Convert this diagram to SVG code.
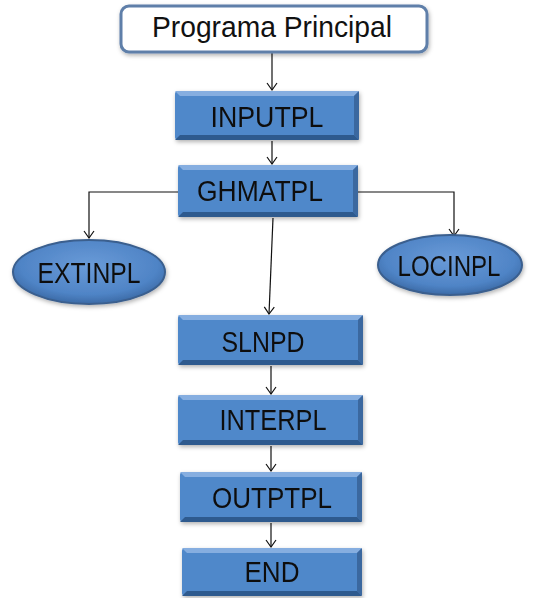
<svg xmlns="http://www.w3.org/2000/svg" width="534" height="598" viewBox="0 0 534 598">
<style>
.lbl{font-family:"Liberation Sans",Arial,sans-serif;font-size:29px;fill:#111;text-anchor:middle}
.main{fill:#5088CA}
.hi{fill:#86AEE0}
.sh{fill:#3A679F}
.bot{fill:#2F5A8E}
.ell{fill:url(#eg);stroke:#3A5F8E;stroke-width:2}
.con{fill:none;stroke:#111;stroke-width:1.2;marker-end:url(#arr)}
</style>
<defs>
<marker id="arr" markerWidth="12" markerHeight="12" refX="10" refY="6" orient="auto" markerUnits="userSpaceOnUse" viewBox="0 0 12 12">
<path d="M3,1 L10,6 L3,11" fill="none" stroke="#111" stroke-width="1.2"/>
</marker>
<radialGradient id="eg" cx="50%" cy="40%" r="60%">
<stop offset="0" stop-color="#6A9BD8"/>
<stop offset="0.75" stop-color="#4F84C6"/>
<stop offset="1" stop-color="#3B6AA6"/>
</radialGradient>
<filter id="ds" x="-10%" y="-10%" width="130%" height="140%">
<feDropShadow dx="1" dy="2" stdDeviation="2" flood-color="#000" flood-opacity="0.3"/>
</filter>
</defs>

<g id="connectors">
<path class="con" d="M272,53 L272,90"/>
<path class="con" d="M272,141 L272,164"/>
<path class="con" d="M178,192 L89,192 L89,238"/>
<path class="con" d="M358,192 L454,192 L454,236"/>
<path class="con" d="M273,218 L269,314"/>
<path class="con" d="M271,366 L271,394"/>
<path class="con" d="M271,446 L271,471"/>
<path class="con" d="M271,523 L271,547"/>
</g>

<g id="programa">
<rect x="121" y="6" width="306" height="46" rx="8" fill="#fff" stroke="#5E7FA9" stroke-width="3" filter="url(#ds)"/>
<text class="lbl" x="272" y="37" font-size="26" textLength="240" lengthAdjust="spacingAndGlyphs">Programa Principal</text>
</g>

<g id="inputpl" filter="url(#ds)">
<rect class="main" x="175" y="91" width="184" height="49" rx="3"/>
<polygon class="hi" points="175,91 359,91 354,96 180,96"/>
<polygon class="sh" points="359,91 359,140 354,135 354,96"/>
<polygon class="bot" points="175,140 359,140 354,135 180,135"/>
<text class="lbl" x="267" y="127" textLength="113" lengthAdjust="spacingAndGlyphs">INPUTPL</text>
</g>

<g id="ghmatpl" filter="url(#ds)">
<rect class="main" x="178" y="165" width="180" height="52" rx="3"/>
<polygon class="hi" points="178,165 358,165 353,170 183,170"/>
<polygon class="sh" points="358,165 358,217 353,212 353,170"/>
<polygon class="bot" points="178,217 358,217 353,212 183,212"/>
<text class="lbl" x="260" y="201" textLength="126" lengthAdjust="spacingAndGlyphs">GHMATPL</text>
</g>

<g id="extinpl" filter="url(#ds)">
<ellipse class="ell" cx="89" cy="272" rx="76" ry="32"/>
<text class="lbl" x="89" y="283" textLength="103" lengthAdjust="spacingAndGlyphs">EXTINPL</text>
</g>

<g id="locinpl" filter="url(#ds)">
<ellipse class="ell" cx="450" cy="265" rx="72" ry="30"/>
<text class="lbl" x="449" y="276" textLength="103" lengthAdjust="spacingAndGlyphs">LOCINPL</text>
</g>

<g id="slnpd" filter="url(#ds)">
<rect class="main" x="178" y="315" width="185" height="50" rx="3"/>
<polygon class="hi" points="178,315 363,315 358,320 183,320"/>
<polygon class="sh" points="363,315 363,365 358,360 358,320"/>
<polygon class="bot" points="178,365 363,365 358,360 183,360"/>
<text class="lbl" x="263" y="352" textLength="83" lengthAdjust="spacingAndGlyphs">SLNPD</text>
</g>

<g id="interpl" filter="url(#ds)">
<rect class="main" x="178" y="395" width="185" height="50" rx="3"/>
<polygon class="hi" points="178,395 363,395 358,400 183,400"/>
<polygon class="sh" points="363,395 363,445 358,440 358,400"/>
<polygon class="bot" points="178,445 363,445 358,440 183,440"/>
<text class="lbl" x="273" y="430" textLength="107" lengthAdjust="spacingAndGlyphs">INTERPL</text>
</g>

<g id="outptpl" filter="url(#ds)">
<rect class="main" x="180" y="472" width="182" height="50" rx="3"/>
<polygon class="hi" points="180,472 362,472 357,477 185,477"/>
<polygon class="sh" points="362,472 362,522 357,517 357,477"/>
<polygon class="bot" points="180,522 362,522 357,517 185,517"/>
<text class="lbl" x="272" y="508" textLength="120" lengthAdjust="spacingAndGlyphs">OUTPTPL</text>
</g>

<g id="end" filter="url(#ds)">
<rect class="main" x="182" y="548" width="180" height="48" rx="3"/>
<polygon class="hi" points="182,548 362,548 357,553 187,553"/>
<polygon class="sh" points="362,548 362,596 357,591 357,553"/>
<polygon class="bot" points="182,596 362,596 357,591 187,591"/>
<text class="lbl" x="272" y="582" textLength="55" lengthAdjust="spacingAndGlyphs">END</text>
</g>
</svg>
